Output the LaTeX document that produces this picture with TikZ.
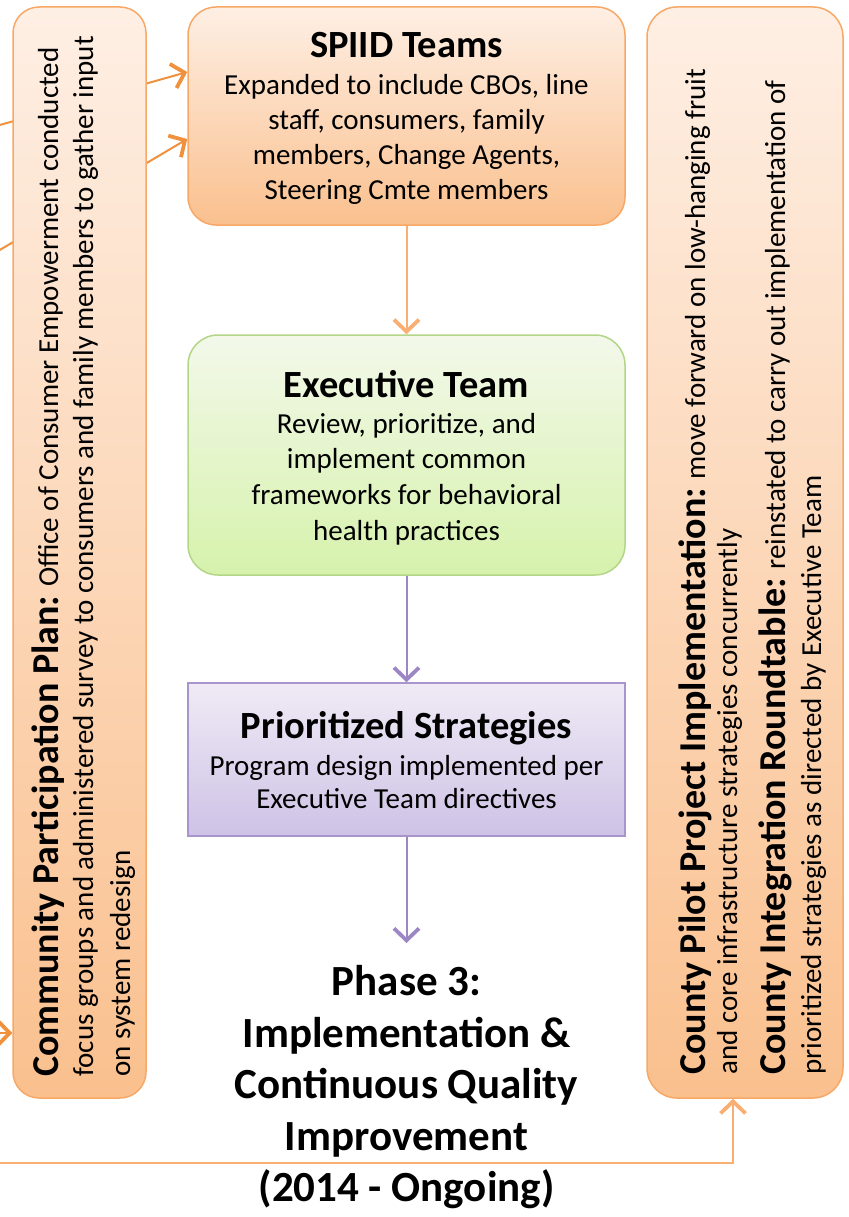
\documentclass[tikz,border=0pt]{standalone}
\usepackage{fontspec}
\setmainfont{Carlito}
\usetikzlibrary{arrows.meta,calc}
\definecolor{orB}{HTML}{F7A866}
\definecolor{orT}{HTML}{FEEFE4}
\definecolor{orD}{HTML}{FAC08E}
\definecolor{orA}{HTML}{F0913E}
\definecolor{orL}{HTML}{F9AE72}
\definecolor{grB}{HTML}{B3D588}
\definecolor{grT}{HTML}{F3F8EA}
\definecolor{grD}{HTML}{D6F2AC}
\definecolor{puB}{HTML}{A795CB}
\definecolor{puT}{HTML}{EFEBF5}
\definecolor{puD}{HTML}{CEC2E6}
\definecolor{puA}{HTML}{9C86C4}
\tikzset{
  obox/.style={draw=orB, line width=1.5pt, top color=orT, bottom color=orD, rounded corners=28pt, inner sep=0pt},
  gbox/.style={draw=grB, line width=1.5pt, top color=grT, bottom color=grD, rounded corners=30pt, inner sep=0pt},
  pbox/.style={draw=puB, line width=1.5pt, top color=puT, bottom color=puD, inner sep=0pt},
  ttl/.style={font=\fontsize{38.5}{40}\selectfont\bfseries, inner sep=0pt, anchor=base},
  bod/.style={font=\fontsize{29}{35}\selectfont, inner sep=0pt, anchor=base},
  phs/.style={font=\fontsize{43}{45}\selectfont\bfseries, inner sep=0pt, anchor=base},
  vline/.style={rotate=90, anchor=base west, inner sep=0pt, font=\fontsize{29}{35}\selectfont},
  barb/.style={-{Straight Barb[length=12pt,width=25pt,line width=3.8pt]}},
  oarr/.style={draw=orA, line width=2pt, barb},
  larr/.style={draw=orL, line width=2pt, barb},
  parr/.style={draw=puA, line width=2pt, barb}
}
\newcommand{\lead}[1]{{\fontsize{38}{38}\selectfont\bfseries #1}}
\begin{document}
\begin{tikzpicture}[x=1pt,y=-1pt]
\useasboundingbox (0,0) rectangle (848,1217);
\clip (0,0) rectangle (848,1217);
% SPIID box first, then the two arrows that pass behind the left box
\path (406.5,116) node[obox, minimum width=437pt, minimum height=218pt] (spiid) {};
\coordinate (s1) at (-20,130.6);
\coordinate (s2) at (-20,261.7);
\draw[oarr] (s1) -- ([yshift=44pt]spiid.west);
\draw[oarr] (s2) -- ([yshift=-23pt]spiid.west);
\node[obox, rounded corners=26pt, minimum width=133pt, minimum height=1091pt] (lbox) at (79.5,552.5) {};
\node[obox, rounded corners=30pt, minimum width=196pt, minimum height=1091pt] (rbox) at (745,552.5) {};
\node[gbox, minimum width=437pt, minimum height=240pt] (exec) at (406.5,455) {};
\node[pbox, minimum width=437pt, minimum height=153pt] (prio) at (406.5,759.5) {};
% incoming arrows from the left edge
\coordinate (s3) at (-40,1033);
\draw[oarr] (s3) -- ([yshift=-480.5pt]lbox.west);
\coordinate (b0) at (-10,1163);
\draw[larr] (b0) -| ([xshift=-12pt]rbox.south);
% vertical arrows
\coordinate (ph) at (406.5,943);
\draw[larr] (spiid.south) -- (exec.north);
\draw[parr] (exec.south) -- (prio.north);
\draw[parr] (prio.south) -- (ph);
% SPIID text
\node[ttl] (spT) at (406.5,58) {SPIID Teams};
\node[bod] (sp1) at (406.5,95) {Expanded to include CBOs, line};
\node[bod] (sp2) at (406.5,130) {staff, consumers, family};
\node[bod] (sp3) at (406.5,165) {members, Change Agents,};
\node[bod] (sp4) at (406.5,200) {Steering Cmte members};
% Executive text
\node[ttl] (exT) at (406.5,397) {Executive Team};
\node[bod] (ex1) at (406.5,433) {Review, prioritize, and};
\node[bod] (ex2) at (406.5,468) {implement common};
\node[bod] (ex3) at (406.5,504) {frameworks for behavioral};
\node[bod] (ex4) at (406.5,540) {health practices};
% Prioritized text
\node[ttl] (prT) at (406.5,738) {Prioritized Strategies};
\node[bod] (pr1) at (406.5,775) {Program design implemented per};
\node[bod] (pr2) at (406.5,808) {Executive Team directives};
% Phase 3 text
\node[phs] (p1) at (406.5,995) {Phase 3:};
\node[phs] (p2) at (406.5,1047) {Implementation \&};
\node[phs] (p3) at (406.5,1098) {Continuous Quality};
\node[phs] (p4) at (406.5,1150) {Improvement};
\node[phs] (p5) at (406.5,1201) {(2014 - Ongoing)};
% left box text
\node[vline] (l1) at (58,1077) {\lead{Community Participation Plan:} Office of Consumer Empowerment conducted};
\node[vline] (l2) at (93,1077) {focus groups and administered survey to consumers and family members to gather input};
\node[vline] (l3) at (130,1077) {on system redesign};
% right box text
\node[vline] (r1) at (705,1075) {\lead{County Pilot Project Implementation:} move forward on low-hanging fruit};
\node[vline] (r2) at (737,1075) {and core infrastructure strategies concurrently};
\node[vline] (r3) at (785,1075) {\lead{County Integration Roundtable:} reinstated to carry out implementation of};
\node[vline] (r4) at (821,1075) {prioritized strategies as directed by Executive Team};
\end{tikzpicture}
\end{document}
